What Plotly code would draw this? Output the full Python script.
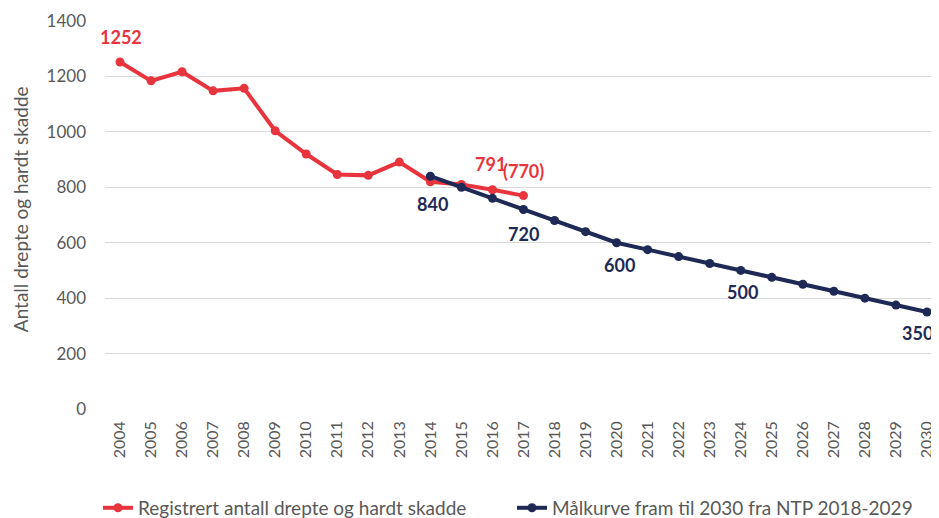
import plotly.graph_objects as go

years_reg = list(range(2004, 2018))
reg_values = [1252, 1184, 1217, 1148, 1157, 1004, 920, 846, 843, 891, 820, 810, 791, 770]
years_goal = list(range(2014, 2031))
goal_values = [840, 800, 760, 720, 680, 640, 600, 575, 550, 525, 500, 475, 450, 425, 400, 375, 350]
year_ticks = list(range(2004, 2031))

reg_name = "Registrert antall drepte og hardt skadde"
goal_name = "Målkurve fram til 2030 fra NTP 2018-2029"
y_title = "Antall drepte og hardt skadde"

RED = "#E8343C"
NAVY = "#1E2956"
GREY = "#595959"
FONT = "Lato"

# labels: (year, value, text, xshift, yshift)
reg_labels = [(2004, 1252, "1252", 1, 25), (2016, 791, "791", -2, 26), (2017, 770, "(770)", 0, 25)]
goal_labels = [(2014, 840, "840", 2, -28), (2017, 720, "720", 0, -25), (2020, 600, "600", 3, -22),
               (2024, 500, "500", 2, -22), (2030, 350, "350", -9, -21)]

fig = go.Figure()
fig.add_trace(go.Scatter(x=years_reg, y=reg_values, mode="lines+markers", name=reg_name,
                         line=dict(color=RED, width=4), marker=dict(color=RED, size=9)))
fig.add_trace(go.Scatter(x=years_goal, y=goal_values, mode="lines+markers", name=goal_name,
                         line=dict(color=NAVY, width=4), marker=dict(color=NAVY, size=9)))

for yr, v, t, xs, ys in reg_labels:
    fig.add_annotation(x=yr, y=v, text="<b>%s</b>" % t, showarrow=False, xshift=xs, yshift=ys,
                       font=dict(family=FONT, size=18, color=RED))
for yr, v, t, xs, ys in goal_labels:
    fig.add_annotation(x=yr, y=v, text="<b>%s</b>" % t, showarrow=False, xshift=xs, yshift=ys,
                       font=dict(family=FONT, size=18, color=NAVY))

# y-axis title as rotated annotation
fig.add_annotation(text=y_title, xref="paper", yref="paper", x=-0.1019, y=0.515,
                   xanchor="center", yanchor="middle", textangle=-90, showarrow=False,
                   font=dict(family=FONT, size=19, color=GREY))

fig.update_layout(
    width=931, height=510,
    margin=dict(l=97, r=0, t=13, b=109, autoexpand=False),
    plot_bgcolor="white", paper_bgcolor="white",
    font=dict(family=FONT, color=GREY),
    showlegend=True,
    legend=dict(orientation="h", x=-0.0084, xanchor="left", y=-0.255, yanchor="middle",
                font=dict(size=19, color=GREY), itemwidth=30, entrywidth=369),
    xaxis=dict(range=[2003.517, 2030.387], tickmode="array", tickvals=year_ticks,
               ticktext=[str(y) for y in year_ticks], tickangle=-90,
               tickfont=dict(size=16, color=GREY), showgrid=False, zeroline=False,
               showline=False, ticks="", ticklabelstandoff=8, automargin=False),
    yaxis=dict(range=[0, 1400], dtick=200, tickfont=dict(size=17, color=GREY),
               gridcolor="#D9D9D9", gridwidth=1, zeroline=False, showline=False,
               ticklabelstandoff=18, automargin=False),
)

fig.write_html("out.html")
